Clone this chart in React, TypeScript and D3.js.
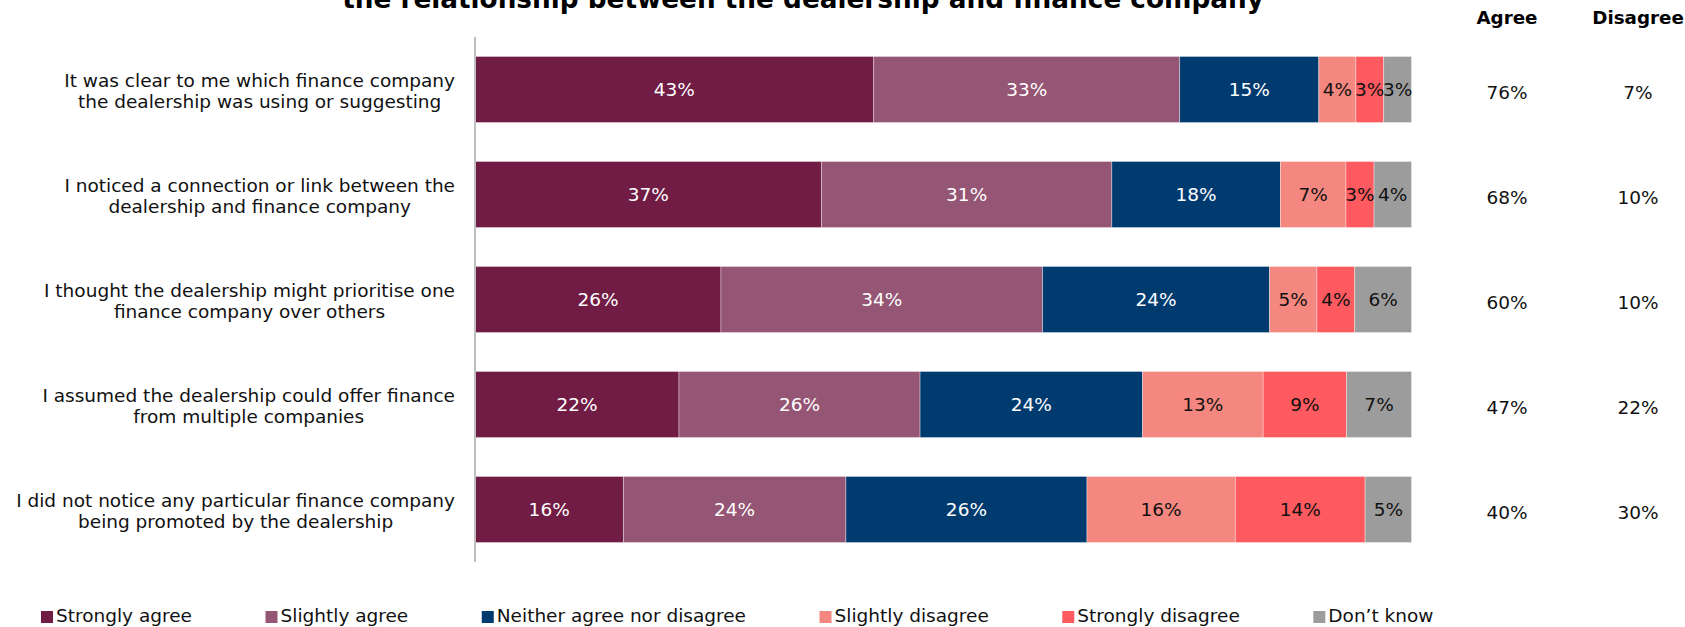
import React, { useEffect, useRef } from "react";
import * as d3 from "d3";

const categories = [
  ["It was clear to me which finance company", "the dealership was using or suggesting"],
  ["I noticed a connection or link between the", "dealership and finance company"],
  ["I thought the dealership might prioritise one", "finance company over others"],
  ["I assumed the dealership could offer finance", "from multiple companies"],
  ["I did not notice any particular finance company", "being promoted by the dealership"],
];
const seriesNames = ["Strongly agree", "Slightly agree", "Neither agree nor disagree", "Slightly disagree", "Strongly disagree", "Don\u2019t know"];
const stronglyAgree = [43, 37, 26, 22, 16];
const slightlyAgree = [33, 31, 34, 26, 24];
const neither = [15, 18, 24, 24, 26];
const slightlyDisagree = [4, 7, 5, 13, 16];
const stronglyDisagree = [3, 3, 4, 9, 14];
const dontKnow = [3, 4, 6, 7, 5];
const agreeTotals = [76, 68, 60, 47, 40];
const disagreeTotals = [7, 10, 10, 22, 30];
const titleText = "the relationship between the dealership and finance company";

const colors = ["#701C45", "#955574", "#003B70", "#F4877F", "#FF5A5F", "#9C9C9C"];
const labelColors = ["#ffffff", "#ffffff", "#ffffff", "#111111", "#111111", "#111111"];

const W = 1685, H = 627;
const FONT = "'DejaVu Sans', Verdana, sans-serif";

export default function App() {
  const ref = useRef<SVGSVGElement>(null);
  useEffect(() => {
    const svg = d3.select(ref.current);
    svg.selectAll("*").remove();
    const series = [stronglyAgree, slightlyAgree, neither, slightlyDisagree, stronglyDisagree, dontKnow];
    const rows = categories.map((c, i) => {
      const o: any = { idx: i };
      seriesNames.forEach((s, j) => (o[s] = series[j][i]));
      return o;
    });
    const stack = d3.stack().keys(seriesNames).offset(d3.stackOffsetExpand);
    const stacked = stack(rows as any);

    const x = d3.scaleLinear().domain([0, 1]).range([475, 1411.5]);
    const y = d3.scaleBand<number>().domain(d3.range(categories.length)).range([37, 562]).paddingInner(0.371).paddingOuter(0.1855);

    // title
    svg.append("text").attr("x", 803).attr("y", 7.5).attr("text-anchor", "middle")
      .attr("font-family", FONT).attr("font-weight", "bold").attr("font-size", 26.3).attr("fill", "#000").text(titleText);

    // headers
    [["Agree", 1507], ["Disagree", 1638]].forEach(([t, cx]) => {
      svg.append("text").attr("x", cx as number).attr("y", 24).attr("text-anchor", "middle")
        .attr("font-family", FONT).attr("font-weight", "bold").attr("font-size", 18.3).attr("fill", "#000").text(t as string);
    });

    // bars
    const g = svg.append("g");
    stacked.forEach((layer, j) => {
      layer.forEach((d: any, i) => {
        g.append("rect").attr("x", x(d[0])).attr("y", y(i)!).attr("width", x(d[1]) - x(d[0])).attr("height", y.bandwidth())
          .attr("fill", colors[j]).attr("stroke", "#ffffff").attr("stroke-opacity", 0.45).attr("stroke-width", 0.8);
      });
    });
    stacked.forEach((layer, j) => {
      layer.forEach((d: any, i) => {
        g.append("text").attr("x", (x(d[0]) + x(d[1])) / 2).attr("y", y(i)! + y.bandwidth() / 2 + 6.8)
          .attr("text-anchor", "middle").attr("font-family", FONT).attr("font-size", 18.5)
          .attr("fill", labelColors[j]).text(series[j][i] + "%");
      });
    });

    // axis line
    svg.append("line").attr("x1", 475).attr("x2", 475).attr("y1", 37).attr("y2", 562)
      .attr("stroke", "#BFBFBF").attr("stroke-width", 2);

    // category labels (each line centred on the block, block right-aligned)
    categories.forEach((lines, i) => {
      const c = y(i)! + y.bandwidth() / 2;
      const t = svg.append("text").attr("text-anchor", "middle").attr("font-family", FONT).attr("font-size", 18.5).attr("fill", "#111");
      const s1 = t.append("tspan").attr("y", c - 3).text(lines[0]);
      const s2 = t.append("tspan").attr("y", c + 18.5).text(lines[1]);
      const w = Math.max(
        (s1.node() as SVGTextContentElement).getComputedTextLength(),
        (s2.node() as SVGTextContentElement).getComputedTextLength()
      );
      const cx = 455 - w / 2;
      s1.attr("x", cx);
      s2.attr("x", cx);
    });

    // totals
    categories.forEach((_, i) => {
      const c = y(i)! + y.bandwidth() / 2;
      svg.append("text").attr("x", 1507).attr("y", c + 9.5).attr("text-anchor", "middle").attr("font-family", FONT)
        .attr("font-size", 18.5).attr("fill", "#111").text(agreeTotals[i] + "%");
      svg.append("text").attr("x", 1638).attr("y", c + 9.5).attr("text-anchor", "middle").attr("font-family", FONT)
        .attr("font-size", 18.5).attr("fill", "#111").text(disagreeTotals[i] + "%");
    });

    // legend
    let lx = 41;
    seriesNames.forEach((s, j) => {
      svg.append("rect").attr("x", lx).attr("y", 611).attr("width", 12).attr("height", 12).attr("fill", colors[j]);
      const t = svg.append("text").attr("x", lx + 15).attr("y", 622).attr("font-family", FONT).attr("font-size", 18.5)
        .attr("fill", "#111").text(s);
      const w = (t.node() as SVGTextElement).getComputedTextLength();
      lx = lx + 15 + w + 73.5;
    });
  }, []);
  return (
    <svg ref={ref} width={W} height={H} style={{ position: "absolute", left: 0, top: 0, background: "#fff" }} />
  );
}
